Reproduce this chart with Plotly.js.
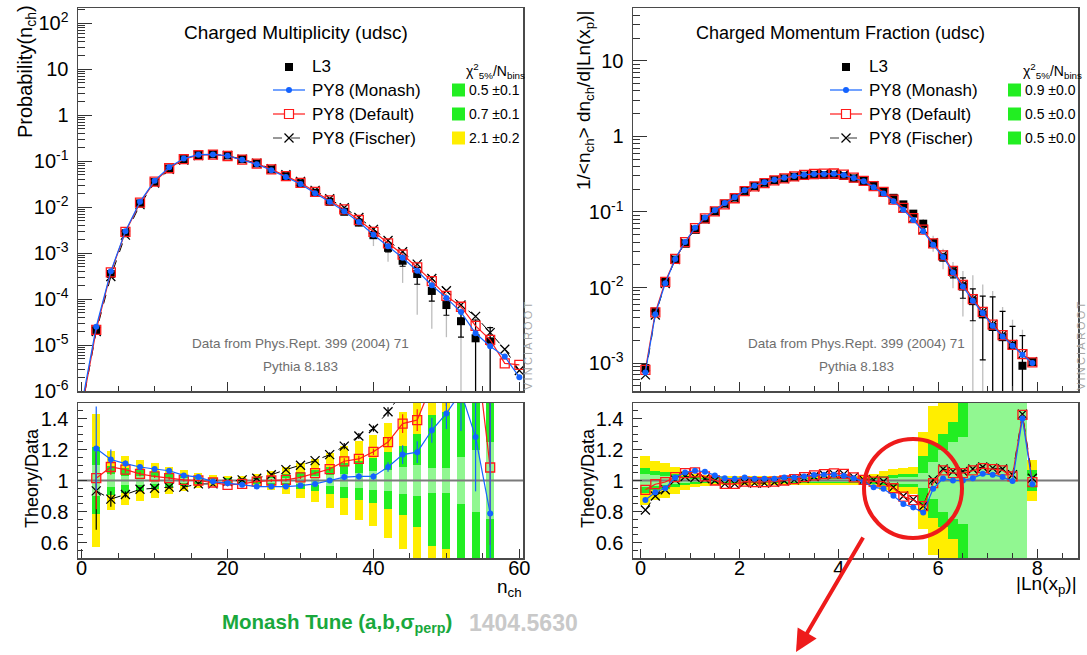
<!DOCTYPE html>
<html><head><meta charset="utf-8">
<script src="https://cdn.plot.ly/plotly-3.0.1.min.js"></script>
<style>html,body{margin:0;padding:0;background:#fff;}#chart{width:1087px;height:655px;}</style>
</head><body><div id="chart"></div>
<script>
// ---------------- DATA: left (charged multiplicity) ----------------
const nData = [2,4,6,8,10,12,14,16,18,20,22,24,26,28,30,32,34,36,38,40,42,44,46,48,50,52,54,56];
const probData = [2.1e-5,3.5e-4,2.7e-3,1.2e-2,3.5e-2,6.9e-2,0.110,0.135,0.141,0.133,0.110,0.089,0.066,0.047,0.033,0.0205,0.013,7.9e-3,4.6e-3,2.45e-3,1.3e-3,6.8e-4,3.5e-4,1.5e-4,7.4e-5,3.3e-5,1.4e-5,1.2e-5];
const statRelL = [0.04,0.02,0.01,0.01,0.01,0.01,0.01,0.01,0.01,0.01,0.01,0.01,0.01,0.01,0.015,0.02,0.03,0.05,0.08,0.12,0.18,0.24,0.4,0.4,0.4,0.55,1.5,1.0];
const totRelL = [0.2,0.09,0.07,0.06,0.05,0.04,0.03,0.02,0.015,0.01,0.012,0.02,0.03,0.04,0.05,0.06,0.08,0.1,0.2,0.42,0.5,0.67,0.87,0.85,0.8,1.2,2.0,1.2];
const nMC = [0,2,4,6,8,10,12,14,16,18,20,22,24,26,28,30,32,34,36,38,40,42,44,46,48,50,52,54,56,58,60];
const monTopL = [5e-7,2.5e-5,4.0e-4,3.0e-3,1.3e-2,3.76e-2,7.33e-2,0.1136,0.138,0.140,0.1307,0.107,0.0855,0.0634,0.0452,0.0319,0.0200,0.0130,8.07e-3,4.72e-3,2.51e-3,1.41e-3,7.9e-4,4.1e-4,1.99e-4,1.06e-4,5.2e-5,1.8e-5,9.4e-6,5.6e-6,2.0e-6];
const defTopL = [4e-7,2.13e-5,3.8e-4,2.89e-3,1.25e-2,3.59e-2,7.0e-2,0.1104,0.135,0.139,0.129,0.1076,0.0884,0.066,0.0472,0.0337,0.0215,0.01396,8.88e-3,5.24e-3,2.90e-3,1.62e-3,9.3e-4,4.87e-4,2.45e-4,1.17e-4,6.8e-5,2.6e-5,1.3e-5,4.0e-6,3.7e-6];
const fisTopL = [4e-7,1.96e-5,3.08e-4,2.46e-3,1.13e-2,3.33e-2,6.6e-2,0.105,0.132,0.138,0.132,0.1104,0.0903,0.0684,0.0503,0.0362,0.0231,0.0152,9.65e-3,5.92e-3,3.27e-3,1.88e-3,1.07e-3,5.75e-4,2.8e-4,1.51e-4,7.4e-5,4.2e-5,1.86e-5,8.1e-6,2.8e-6];
const ratioMonL = [1.207,1.135,1.109,1.087,1.074,1.063,1.033,1.022,0.993,0.983,0.972,0.961,0.961,0.961,0.967,0.978,1.0,1.022,1.026,1.026,1.087,1.167,1.183,1.324,1.433,1.57,1.28,0.787];
const ratioDefL = [1.015,1.087,1.07,1.043,1.026,1.015,1.004,1.0,0.987,0.972,0.978,0.993,1.0,1.004,1.02,1.048,1.074,1.124,1.139,1.185,1.248,1.367,1.39,1.62,1.58,2.05,1.88,1.084];
const ratioFisL = [0.933,0.88,0.91,0.943,0.95,0.957,0.957,0.978,0.978,0.993,1.004,1.015,1.037,1.07,1.098,1.128,1.167,1.222,1.287,1.335,1.443,1.57,1.64,1.87,2.04,2.24,2.95,1.55];
const monErrL = [0.27,0.065,0.02,0.015,0.01,0.01,0.01,0.01,0.01,0.01,0.01,0.01,0.01,0.01,0.01,0.01,0.015,0.02,0.02,0.02,0.03,0.06,0.07,0.08,0.1,0.25,0.35,0.9];
const defErrL = [0.2,0.05,0.02,0.015,0.01,0.01,0.01,0.01,0.01,0.01,0.01,0.01,0.01,0.01,0.01,0.01,0.015,0.02,0.02,0.02,0.03,0.06,0.07,0.08,0.1,0.25,0.35,0.5];
const fisErrL = [0.25,0.05,0.02,0.015,0.01,0.01,0.01,0.01,0.01,0.01,0.01,0.01,0.01,0.01,0.01,0.01,0.015,0.02,0.02,0.02,0.03,0.06,0.07,0.08,0.1,0.25,0.35,0.45];
const sigL = [0.215,0.095,0.08,0.065,0.055,0.045,0.035,0.025,0.018,0.013,0.015,0.022,0.032,0.042,0.055,0.07,0.09,0.11,0.128,0.148,0.185,0.22,0.3,0.42,0.44,0.6,0.7,0.8];
const sigLightL = [0.1,0.04,0.032,0.026,0.022,0.018,0.014,0.01,0.007,0.005,0.006,0.009,0.013,0.017,0.022,0.028,0.036,0.044,0.05,0.06,0.07,0.085,0.1,0.08,0.08,0.15,0.2,0.25];

// ---------------- DATA: right (momentum fraction) ----------------
const xR = [0.1,0.3,0.5,0.7,0.9,1.1,1.3,1.5,1.7,1.9,2.1,2.3,2.5,2.7,2.9,3.1,3.3,3.5,3.7,3.9,4.1,4.3,4.5,4.7,4.9,5.1,5.3,5.5,5.7,5.9,6.1,6.3,6.5,6.7,6.9,7.1,7.3,7.5,7.7,7.9];
const dataR = [8.6e-4,4.8e-3,1.2e-2,2.34e-2,3.8e-2,5.8e-2,8.0e-2,0.102,0.129,0.155,0.19,0.22,0.244,0.264,0.278,0.293,0.302,0.308,0.308,0.309,0.299,0.278,0.257,0.222,0.185,0.154,0.126,0.095,0.070,0.039,0.025,0.0158,0.0103,6.6e-3,4.4e-3,3.0e-3,2.2e-3,1.7e-3,9.2e-4,1.03e-3];
const statRelR = [0.03,0.02,0.015,0.01,0.01,0.01,0.01,0.01,0.01,0.01,0.01,0.01,0.01,0.01,0.01,0.01,0.01,0.01,0.01,0.01,0.01,0.01,0.01,0.01,0.01,0.01,0.015,0.02,0.03,0.06,0.1,0.15,0.3,0.45,0.75,1.5,1.2,0.8,1.5,0.06];
const totRelR = [0.08,0.062,0.057,0.043,0.03,0.022,0.018,0.015,0.014,0.014,0.014,0.014,0.014,0.014,0.014,0.014,0.014,0.014,0.014,0.014,0.014,0.014,0.015,0.02,0.03,0.036,0.04,0.045,0.155,0.24,0.3,0.38,0.6,1.2,1.5,2.0,1.5,1.2,2.0,0.065];
const monTopR = [7.5e-4,4.44e-3,0.0114,0.0239,0.040,0.0617,0.0846,0.1054,0.131,0.157,0.194,0.222,0.247,0.267,0.284,0.299,0.310,0.319,0.319,0.320,0.308,0.282,0.255,0.212,0.175,0.139,0.107,0.0785,0.0555,0.0369,0.0253,0.0158,0.0103,6.7e-3,4.59e-3,3.11e-3,2.25e-3,1.69e-3,1.29e-3,1.005e-3];
const defTopR = [8.1e-4,4.68e-3,0.0119,0.0239,0.0398,0.061,0.0821,0.102,0.126,0.152,0.189,0.218,0.241,0.262,0.278,0.296,0.309,0.318,0.321,0.323,0.312,0.284,0.258,0.220,0.184,0.146,0.113,0.083,0.0585,0.0383,0.0266,0.0166,0.0108,7.03e-3,4.75e-3,3.22e-3,2.34e-3,1.74e-3,1.31e-3,1.02e-3];
const fisTopR = [6.97e-4,4.32e-3,0.01128,0.0235,0.039,0.0592,0.0809,0.102,0.126,0.152,0.1875,0.216,0.240,0.261,0.2775,0.294,0.3065,0.316,0.319,0.322,0.311,0.284,0.258,0.223,0.184,0.147,0.113,0.0834,0.0585,0.0392,0.0269,0.0167,0.0109,7.09e-3,4.78e-3,3.24e-3,2.36e-3,1.76e-3,1.31e-3,1.045e-3];
const ratioMonR = [0.874,0.924,0.95,1.02,1.052,1.063,1.057,1.033,1.015,1.011,1.02,1.011,1.011,1.011,1.02,1.02,1.026,1.035,1.037,1.037,1.03,1.015,0.993,0.957,0.946,0.902,0.848,0.826,0.793,0.946,1.013,1.0,1.0,1.015,1.043,1.037,1.022,0.996,1.40,0.976];
const ratioDefR = [0.94,0.976,0.99,1.022,1.048,1.052,1.026,1.0,0.978,0.978,0.993,0.989,0.989,0.993,1.0,1.009,1.022,1.033,1.041,1.046,1.043,1.02,1.004,0.993,0.993,0.95,0.896,0.874,0.835,0.983,1.065,1.048,1.048,1.065,1.08,1.074,1.065,1.026,1.424,0.989];
const ratioFisR = [0.81,0.9,0.94,1.004,1.026,1.02,1.011,1.0,0.978,0.978,0.987,0.983,0.983,0.989,0.998,1.004,1.015,1.026,1.037,1.041,1.041,1.022,1.004,1.004,0.993,0.957,0.90,0.878,0.835,1.004,1.074,1.059,1.059,1.074,1.087,1.08,1.074,1.037,1.428,1.015];
const sigR = [0.08,0.062,0.057,0.043,0.03,0.022,0.018,0.015,0.014,0.014,0.014,0.014,0.014,0.014,0.014,0.014,0.014,0.014,0.014,0.014,0.014,0.014,0.015,0.02,0.03,0.036,0.04,0.045,0.155,0.24,0.3,0.38,0.6,1.0,1.0,1.0,1.0,1.0,1.0,0.065];
const sigLightR = [0.045,0.035,0.03,0.024,0.017,0.012,0.01,0.008,0.008,0.008,0.008,0.008,0.008,0.008,0.008,0.008,0.008,0.008,0.008,0.008,0.008,0.008,0.008,0.01,0.015,0.018,0.02,0.022,0.05,0.12,0.2,0.25,0.28,1.0,1.0,1.0,1.0,1.0,1.0,0.03];

// ---------------- legend / labels ----------------
const seriesNames = ['L3','PY8 (Monash)','PY8 (Default)','PY8 (Fischer)'];
const chi2L = ['0.5 \u00b10.1','0.7 \u00b10.1','2.1 \u00b10.2'];
const chi2LColors = ['#22ee22','#22ee22','#ffee00'];
const chi2R = ['0.9 \u00b10.0','0.5 \u00b10.0','0.5 \u00b10.0'];
const chi2RColors = ['#22ee22','#22ee22','#22ee22'];
const logTickValsL = [1e-6,1e-5,1e-4,1e-3,1e-2,1e-1,1,10,100];
const logTickTextL = ['10<sup>-6</sup>','10<sup>-5</sup>','10<sup>-4</sup>','10<sup>-3</sup>','10<sup>-2</sup>','10<sup>-1</sup>','1','10','10<sup>2</sup>'];
const logTickValsR = [1e-3,1e-2,1e-1,1,10];
const logTickTextR = ['10<sup>-3</sup>','10<sup>-2</sup>','10<sup>-1</sup>','1','10'];
const ratioTickVals = [0.6,0.8,1,1.2,1.4];
const ratioTickText = ['0.6','0.8','1','1.2','1.4'];

// ---------------- styling ----------------
const W = 1087, H = 655;
const FONT = '"Liberation Sans", Arial, Helvetica, sans-serif';
const px = x => x / W, py = y => 1 - y / H;
const BLUE = '#1463ff', RED = '#ff1a1a', YEL = '#ffee00', GRN = '#22ee22';
const xRangeL = [-0.5, 60.5], xRangeR = [-0.15, 8.82];
const yRangeTopL = [-6, 2.33], yRangeTopR = [-3.37, 1.70], yRangeRat = [0.5, 1.5];

function minorLog(lo, hi) {
  const v = [];
  for (let d = lo; d <= hi; d++) for (let k = 2; k <= 9; k++) v.push(k * Math.pow(10, d));
  return v;
}

const traces = [];
function bands(xs, sig, sl, w, xa, ya) {
  const common = {type:'bar', x:xs, width:w, xaxis:xa, yaxis:ya, hoverinfo:'skip', showlegend:false};
  traces.push(Object.assign({}, common, {y:sig.map(s=>4*s), base:sig.map(s=>1-2*s), marker:{color:YEL, line:{width:0}}}));
  traces.push(Object.assign({}, common, {y:sig.map(s=>2*s), base:sig.map(s=>1-s), marker:{color:GRN, line:{width:0}}}));
  traces.push(Object.assign({}, common, {y:sl.map(s=>2*s), base:sl.map(s=>1-s), marker:{color:'rgba(255,255,255,0.5)', line:{width:0}}}));
}
function dataTraces(xs, ys, stat, tot, xa, ya) {
  traces.push({x:xs, y:ys, mode:'markers', xaxis:xa, yaxis:ya, showlegend:false, hoverinfo:'skip',
    marker:{size:2, color:'rgba(0,0,0,0)'},
    error_y:{type:'data', array:ys.map((v,i)=>v*tot[i]), color:'#bdbdbd', thickness:1.3, width:0}});
  traces.push({x:xs, y:ys, mode:'markers', xaxis:xa, yaxis:ya, showlegend:false,
    marker:{symbol:'square', size:8, color:'#000'},
    error_y:{type:'data', array:ys.map((v,i)=>v*stat[i]), color:'#000', thickness:1.2, width:3}});
}
function mcTraces(xs, fis, def, mon, xa, ya, errs) {
  const e = arr => arr ? {type:'data', array:arr, thickness:1.2, width:0} : {visible:false};
  traces.push({x:xs, y:fis, mode:'lines+markers', xaxis:xa, yaxis:ya, showlegend:false,
    line:{color:'#000', width:1, dash:'dash'}, marker:{symbol:'x-thin-open', size:9, line:{color:'#000', width:1.3}},
    error_y:Object.assign(e(errs && errs[0]), {color:'#000'})});
  traces.push({x:xs, y:def, mode:'lines+markers', xaxis:xa, yaxis:ya, showlegend:false,
    line:{color:RED, width:1.2}, marker:{symbol:'square-open', size:9, color:RED, line:{color:RED, width:1.3}},
    error_y:Object.assign(e(errs && errs[1]), {color:RED})});
  traces.push({x:xs, y:mon, mode:'lines+markers', xaxis:xa, yaxis:ya, showlegend:false,
    line:{color:BLUE, width:1.2}, marker:{symbol:'circle', size:6, color:BLUE},
    error_y:Object.assign(e(errs && errs[2]), {color:BLUE})});
}

// left top
dataTraces(nData, probData, statRelL, totRelL, 'x', 'y');
mcTraces(nMC, fisTopL, defTopL, monTopL, 'x', 'y');
// left ratio
bands(nData, sigL, sigLightL, 1.1, 'x2', 'y2');
traces.push({x:xRangeL, y:[1,1], mode:'lines', xaxis:'x2', yaxis:'y2', line:{color:'#7a7a7a', width:2}, hoverinfo:'skip', showlegend:false});
mcTraces(nData, ratioFisL, ratioDefL, ratioMonL, 'x2', 'y2', [fisErrL, defErrL, monErrL]);
// right top
dataTraces(xR, dataR, statRelR, totRelR, 'x3', 'y3');
mcTraces(xR, fisTopR, defTopR, monTopR, 'x3', 'y3');
// right ratio
bands(xR, sigR, sigLightR, 0.2, 'x4', 'y4');
traces.push({x:xRangeR, y:[1,1], mode:'lines', xaxis:'x4', yaxis:'y4', line:{color:'#7a7a7a', width:2}, hoverinfo:'skip', showlegend:false});
mcTraces(xR, ratioFisR, ratioDefR, ratioMonR, 'x4', 'y4');

// axes
const axBase = {showline:true, mirror:true, linecolor:'#4a4a4a', linewidth:1.5, ticks:'inside', tickcolor:'#333',
  tickwidth:1, showgrid:false, zeroline:false, fixedrange:true, tickfont:{size:20, family:FONT, color:'#000'}};
function xAx(dom, range, anchor, dtick, mdt, labels) {
  return Object.assign({}, axBase, {domain:dom, range:range, anchor:anchor, dtick:dtick, tick0:0, ticklen:9,
    showticklabels:labels, ticklabelstandoff:-9,
    minor:{ticks:'inside', ticklen:5, dtick:mdt, tick0:0, tickcolor:'#333', showgrid:false}});
}
function yLog(dom, range, anchor, tv, tt, mlo, mhi) {
  return Object.assign({}, axBase, {domain:dom, type:'log', range:range, anchor:anchor, tickmode:'array',
    tickvals:tv, ticktext:tt, ticklen:14, ticklabelstandoff:4,
    minor:{ticks:'inside', ticklen:7, tickmode:'array', tickvals:minorLog(mlo, mhi), tickcolor:'#333', showgrid:false}});
}
function yRat(dom, anchor) {
  return Object.assign({}, axBase, {domain:dom, range:yRangeRat, anchor:anchor, tickmode:'array',
    tickvals:ratioTickVals, ticktext:ratioTickText, ticklen:9, ticklabelstandoff:4,
    minor:{ticks:'inside', ticklen:5, dtick:0.05, tick0:0, tickcolor:'#333', showgrid:false}});
}
const domXL = [px(78), px(523)], domXR = [px(633), px(1078)];
const domTop = [py(391), py(8)], domRat = [py(558), py(403)];

// shapes and annotations
const shapes = [], ann = [];
function txt(text, x, y, o) {
  ann.push(Object.assign({text:text, x:px(x), y:py(y), xref:'paper', yref:'paper', showarrow:false,
    xanchor:'left', yanchor:'middle', font:{family:FONT, size:17, color:'#000'}}, o || {}));
}
function legend(cx, tx, rows, boxX, chi, chiColors, hdrX) {
  const l0 = cx - 16, l1 = cx + 16;
  shapes.push({type:'rect', xref:'paper', yref:'paper', x0:px(cx-4), x1:px(cx+4), y0:py(rows[0]+4), y1:py(rows[0]-4), fillcolor:'#000', line:{width:0}});
  shapes.push({type:'line', xref:'paper', yref:'paper', x0:px(l0), x1:px(l1), y0:py(rows[1]), y1:py(rows[1]), line:{color:BLUE, width:1.2}});
  shapes.push({type:'circle', xref:'paper', yref:'paper', x0:px(cx-3), x1:px(cx+3), y0:py(rows[1]+3), y1:py(rows[1]-3), fillcolor:BLUE, line:{width:0}});
  shapes.push({type:'line', xref:'paper', yref:'paper', x0:px(l0), x1:px(l1), y0:py(rows[2]), y1:py(rows[2]), line:{color:RED, width:1.2}});
  shapes.push({type:'rect', xref:'paper', yref:'paper', x0:px(cx-4.5), x1:px(cx+4.5), y0:py(rows[2]+4.5), y1:py(rows[2]-4.5), fillcolor:'#fff', line:{color:RED, width:1.2}});
  shapes.push({type:'line', xref:'paper', yref:'paper', x0:px(l0), x1:px(l1), y0:py(rows[3]), y1:py(rows[3]), line:{color:'#333', width:1, dash:'dash'}});
  shapes.push({type:'line', xref:'paper', yref:'paper', x0:px(cx-4.5), x1:px(cx+4.5), y0:py(rows[3]-4.5), y1:py(rows[3]+4.5), line:{color:'#000', width:1.2}});
  shapes.push({type:'line', xref:'paper', yref:'paper', x0:px(cx-4.5), x1:px(cx+4.5), y0:py(rows[3]+4.5), y1:py(rows[3]-4.5), line:{color:'#000', width:1.2}});
  seriesNames.forEach((s,i)=>txt(s, tx, rows[i]));
  txt('\u03c7<sup>2</sup><sub>5%</sub>/N<sub>bins</sub>', hdrX, 71, {font:{family:FONT, size:14, color:'#000'}});
  for (let i = 0; i < 3; i++) {
    shapes.push({type:'rect', xref:'paper', yref:'paper', x0:px(boxX), x1:px(boxX+13), y0:py(rows[i+1]+6.5), y1:py(rows[i+1]-6.5), fillcolor:chiColors[i], line:{width:0}});
    txt(chi[i], boxX+15, rows[i+1], {font:{family:FONT, size:14, color:'#000'}});
  }
}
const rows = [67, 90, 114, 138];
legend(289, 310, rows, 452, chi2L, chi2LColors, 464);
legend(846, 867, rows, 1008, chi2R, chi2RColors, 1021);

// titles
txt('Charged Multiplicity (udsc)', 296, 33, {xanchor:'center', font:{family:FONT, size:19, color:'#000'}});
txt('Charged Momentum Fraction (udsc)', 840, 33, {xanchor:'center', font:{family:FONT, size:18, color:'#000'}});
// axis titles
txt('Probability(n<sub>ch</sub>)', 27, 72, {xanchor:'center', textangle:-90, font:{family:FONT, size:20, color:'#000'}});
txt('Theory/Data', 32, 478, {xanchor:'center', textangle:-90, font:{family:FONT, size:18, color:'#000'}});
txt('1/&lt;n<sub>ch</sub>&gt; dn<sub>ch</sub>/d|Ln(x<sub>p</sub>)|', 585, 100, {xanchor:'center', textangle:-90, font:{family:FONT, size:19, color:'#000'}});
txt('Theory/Data', 588, 478, {xanchor:'center', textangle:-90, font:{family:FONT, size:18, color:'#000'}});
txt('n<sub>ch</sub>', 524, 588, {xanchor:'right', font:{family:FONT, size:19, color:'#000'}});
txt('|Ln(x<sub>p</sub>)|', 1079, 585, {xanchor:'right', font:{family:FONT, size:19, color:'#000'}});
// source notes
const note1 = 'Data from Phys.Rept. 399 (2004) 71', note2 = 'Pythia 8.183';
[[300],[856]].forEach(([cx])=>{
  txt(note1, cx, 343, {xanchor:'center', font:{family:FONT, size:13.5, color:'#6e6e6e'}});
  txt(note2, cx, 366, {xanchor:'center', font:{family:FONT, size:13.5, color:'#6e6e6e'}});
});
const vr = 'V\u2009I\u2009N\u2009C\u2009I\u2009A\u2009R\u2009O\u2009O\u2009T';
txt(vr, 528, 346, {xanchor:'center', textangle:-90, font:{family:FONT, size:11, color:'#a6a6a6'}});
txt(vr, 1081, 346, {xanchor:'center', textangle:-90, font:{family:FONT, size:11, color:'#a6a6a6'}});
// bottom caption
txt('<b>Monash Tune (a,b,\u03c3<sub>perp</sub>)</b>', 220, 623, {font:{family:FONT, size:20.5, color:'#19a83c'}});
txt('<b>1404.5630</b>', 467, 623, {font:{family:FONT, size:23, color:'#c9c9c9'}});
// red highlight circle + arrow
shapes.push({type:'circle', xref:'paper', yref:'paper', x0:px(864), x1:px(962), y0:py(538), y1:py(439), line:{color:'#ee1b1b', width:4}});
ann.push({text:'', x:px(796), y:py(652), xref:'paper', yref:'paper', showarrow:true, ax:68, ay:-116,
  arrowhead:2, arrowsize:1.1, arrowwidth:4, arrowcolor:'#ee1b1b', standoff:0});

const layout = {
  width:W, height:H, margin:{l:0, r:0, t:0, b:0}, paper_bgcolor:'#fff', plot_bgcolor:'rgba(0,0,0,0)',
  showlegend:false, barmode:'overlay', bargap:0, font:{family:FONT, color:'#000'},
  xaxis: xAx(domXL, xRangeL, 'y', 20, 5, false),
  yaxis: yLog(domTop, yRangeTopL, 'x', logTickValsL, logTickTextL, -7, 2),
  xaxis2: xAx(domXL, xRangeL, 'y2', 20, 5, true),
  yaxis2: yRat(domRat, 'x2'),
  xaxis3: xAx(domXR, xRangeR, 'y3', 2, 0.5, false),
  yaxis3: yLog(domTop, yRangeTopR, 'x3', logTickValsR, logTickTextR, -4, 1),
  xaxis4: xAx(domXR, xRangeR, 'y4', 2, 0.5, true),
  yaxis4: yRat(domRat, 'x4'),
  shapes: shapes, annotations: ann
};
Plotly.newPlot('chart', traces, layout, {staticPlot:true, displayModeBar:false});
</script></body></html>
